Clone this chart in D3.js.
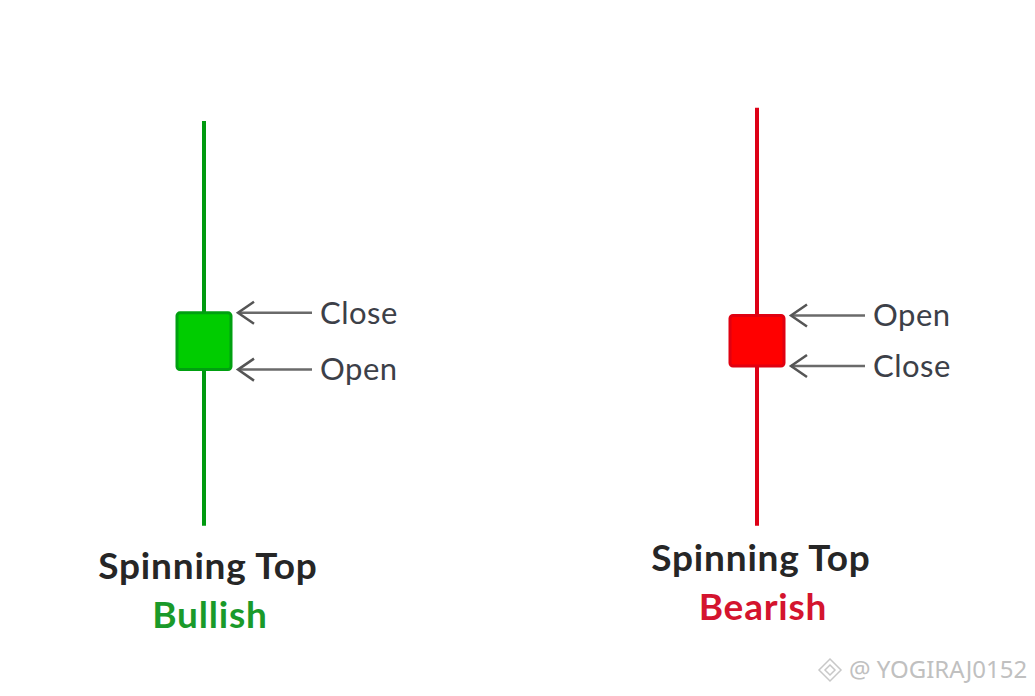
<!DOCTYPE html>
<html>
<head>
<meta charset="utf-8">
<script src="https://cdn.jsdelivr.net/npm/d3@7"></script>
<style>
  body { margin: 0; background: #fff; }
  svg { display: block; }
</style>
</head>
<body>
<svg id="chart" width="1035" height="696"></svg>
<script>
const width = 1035;
const height = 696;

// candle data (arbitrary price units)
const names = ["Bullish", "Bearish"];
const highs = [95, 98];
const lows = [3, 3];
const opens = [38.5, 50.8];
const closes = [51.4, 39.3];
const fills = ["#00cc00", "#ff0000"];
const strokes = ["#00a010", "#e00010"];
const wickColors = ["#009a10", "#dd0016"];
const labelColors = ["#1a9a2a", "#d4142e"];

const svg = d3.select("#chart");

const x = d3.scalePoint()
    .domain(names)
    .range([204, 757]);

const y = d3.scaleLinear()
    .domain([0, 100])
    .range([539, 99]);

const bodyW = 54;

const candles = names.map((n, i) => ({
    name: n, high: highs[i], low: lows[i], open: opens[i], close: closes[i],
    fill: fills[i], stroke: strokes[i], wick: wickColors[i], label: labelColors[i]
}));

const g = svg.selectAll("g.candle")
    .data(candles)
    .join("g")
    .attr("class", "candle");

g.append("line")
    .attr("x1", d => x(d.name))
    .attr("x2", d => x(d.name))
    .attr("y1", d => y(d.high))
    .attr("y2", d => y(d.low))
    .attr("stroke", d => d.wick)
    .attr("stroke-width", 4);

g.append("rect")
    .attr("x", d => x(d.name) - bodyW / 2)
    .attr("y", d => y(Math.max(d.open, d.close)))
    .attr("width", bodyW)
    .attr("height", d => Math.abs(y(d.open) - y(d.close)))
    .attr("rx", 3)
    .attr("fill", d => d.fill)
    .attr("stroke", d => d.stroke)
    .attr("stroke-width", 3);

// arrows pointing at open / close
const arrows = [];
candles.forEach(d => {
    arrows.push({ name: d.name, v: d.close, text: "Close" });
    arrows.push({ name: d.name, v: d.open, text: "Open" });
});

const a = svg.selectAll("g.arrow")
    .data(arrows)
    .join("g")
    .attr("class", "arrow")
    .attr("transform", d => `translate(${x(d.name) + bodyW / 2 + 7},${y(d.v)})`);

a.append("line")
    .attr("x1", 0).attr("x2", 74)
    .attr("y1", 0).attr("y2", 0)
    .attr("stroke", "#6a6a6a")
    .attr("stroke-width", 2.5);

a.append("path")
    .attr("d", "M16,-11 L0,0 L16,11")
    .attr("fill", "none")
    .attr("stroke", "#555")
    .attr("stroke-width", 2.5);

a.append("text")
    .attr("x", 82)
    .attr("y", 0)
    .attr("dy", "0.35em")
    .attr("font-family", "Lato, 'Open Sans', sans-serif")
    .attr("font-size", 31)
    .attr("letter-spacing", 0.5)
    .attr("fill", "#3c4048")
    .text(d => d.text);

// titles
const t = svg.selectAll("g.title")
    .data(candles)
    .join("g")
    .attr("class", "title");

t.append("text")
    .attr("x", d => x(d.name) + 4)
    .attr("y", (d, i) => i === 0 ? 579 : 571)
    .attr("text-anchor", "middle")
    .attr("font-family", "Lato, 'Open Sans', sans-serif")
    .attr("font-weight", "bold")
    .attr("font-size", 37)
    .attr("letter-spacing", 0.8)
    .attr("fill", "#262626")
    .text("Spinning Top");

t.append("text")
    .attr("x", d => x(d.name) + 6)
    .attr("y", (d, i) => i === 0 ? 628 : 620)
    .attr("text-anchor", "middle")
    .attr("font-family", "Lato, 'Open Sans', sans-serif")
    .attr("font-weight", "bold")
    .attr("font-size", 37)
    .attr("letter-spacing", 0.8)
    .attr("fill", d => d.label)
    .text(d => d.name);

// watermark
const wm = svg.append("g").attr("transform", "translate(830,670)");
wm.append("path")
    .attr("d", "M0,-11 L11,0 L0,11 L-11,0 Z M0,-5 L5,0 L0,5 L-5,0 Z")
    .attr("fill", "none")
    .attr("stroke", "#c8c8c8")
    .attr("stroke-width", 1.5);
wm.append("text")
    .attr("x", 19)
    .attr("y", 0)
    .attr("dy", "0.35em")
    .attr("font-family", "'Noto Sans', sans-serif")
    .attr("font-size", 24)
    .attr("fill", "#c0c0c0")
    .text("@ YOGIRAJ0152");
</script>
</body>
</html>
